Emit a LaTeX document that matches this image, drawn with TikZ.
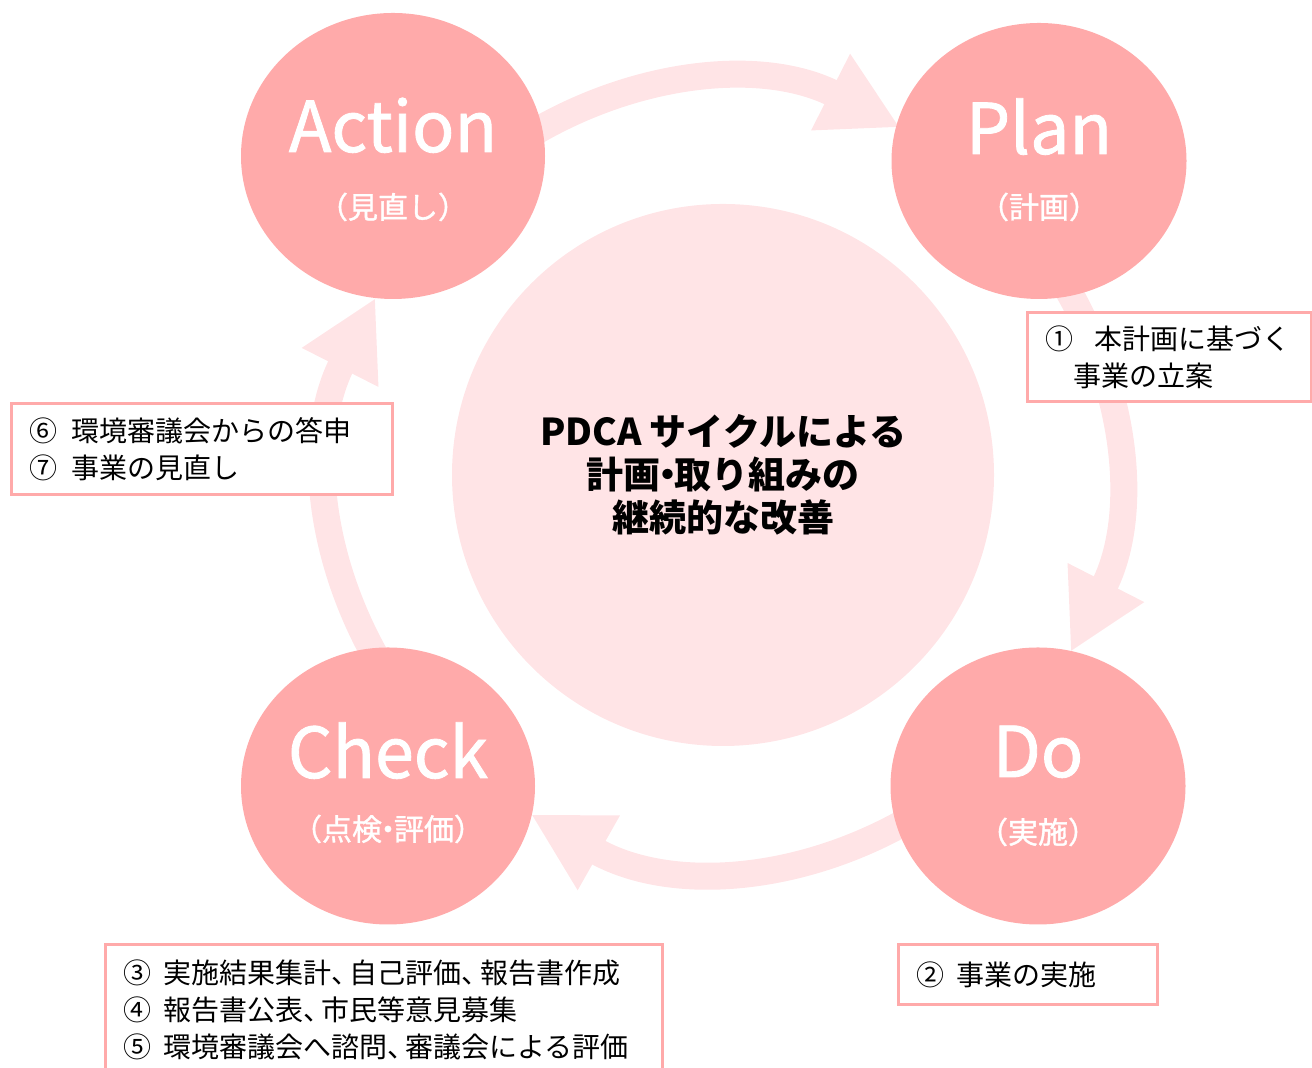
\documentclass[tikz,border=0pt]{standalone}
\usepackage{fontspec}
\setmainfont{Noto Sans CJK JP}
\newfontfamily\phasefont{Noto Sans CJK JP}[FakeBold=1.2]
\usetikzlibrary{arrows.meta,shapes.geometric,positioning}
\definecolor{pdcadark}{HTML}{FFAAAA}
\definecolor{pdcalight}{HTML}{FFE4E6}
\newcommand\tcomma{、\kern-0.35em}

\begin{document}
\begin{tikzpicture}[x=0.5pt,y=0.5pt,
                    phase/.style={ellipse,fill=pdcadark,inner sep=0},
                    ring/.style={draw=pdcalight,line width=13.5pt,
                                 -{Triangle[length=39pt,width=40pt]}},
                    notebox/.style={draw=pdcadark,fill=white,line width=1.5pt,
                                    anchor=north west,align=left,inner xsep=9pt,
                                    font=\fontsize{14}{18.5}\selectfont}]
  \tikzstyle{phasetitle}=[text=white,anchor=base,inner sep=0,
                          font=\phasefont\fontsize{35}{40}\selectfont]
  \tikzstyle{phasesub}=[text=white,inner sep=0,
                        font=\phasefont\fontsize{15}{17}\selectfont]

  \useasboundingbox (0,0) rectangle (1312,1068);

  \node[circle,fill=pdcalight,minimum size=271pt,inner sep=0,align=center,
        font=\bfseries\fontsize{18.5}{21.5}\selectfont] (centre) at (723,593)
        {PDCA サイクルによる\\計画\kern-0.3em・\kern-0.3em 取り組みの\\継続的な改善};

  % cycle arrows
  \draw[ring] (centre) ++(140:390) arc[start angle=140,end angle=63,radius=390];
  \draw[ring] (centre) ++(50:390)  arc[start angle=50,end angle=-27,radius=390];
  \draw[ring] (centre) ++(-37:390) arc[start angle=-37,end angle=-119.5,radius=390];
  \draw[ring] (centre) ++(233:390) arc[start angle=233,end angle=153,radius=390];

  \node[phase,minimum width=152pt,minimum height=143pt]   (act)   at (393,912)  {};
  \node[phase,minimum width=147.5pt,minimum height=138pt] (plan)  at (1039,907) {};
  \node[phase,minimum width=147pt,minimum height=138.5pt] (check) at (388,282)  {};
  \node[phase,minimum width=147.5pt,minimum height=138.5pt] (do)  at (1038,282) {};

  \node[phasetitle] (acttitle)   at ([yshift=2pt]act.center)    {Action};
  \node[phasetitle] (plantitle)  at ([yshift=3.5pt]plan.center) {Plan};
  \node[phasetitle] (checktitle) at ([yshift=4pt]check.center)  {Check};
  \node[phasetitle] (dotitle)    at ([yshift=4.5pt]do.center)   {Do};

  \node[phasesub] (actsub)   at ([yshift=-25.5pt]act.center)  {（見直し）};
  \node[phasesub] (plansub)  at ([yshift=-23pt]plan.center)   {（計画）};
  \node[phasesub] (checksub) at ([yshift=-21.5pt]check.center)
       {（点検\kern-0.3em・\kern-0.3em 評価）};
  \node[phasesub] (dosub)    at ([yshift=-23pt]do.center)     {（実施）};

  % notes
  \node[notebox,minimum width=142pt,text width=124pt,minimum height=44.5pt]
       (plannote) at (1025.5,756.5)
       {①\hspace{0.75em}本計画に基づく\\\hspace{1em}事業の立案};
  \node[notebox,minimum width=190.5pt,text width=172.5pt,minimum height=45.5pt]
       (actnote) at (9.5,665.5)
       {⑥\hspace{0.5em}環境審議会からの答申\\⑦\hspace{0.5em}事業の見直し};
  \node[notebox,minimum width=278.5pt,text width=260.5pt,minimum height=65pt]
       (checknote) at (103.5,124.5)
       {③\hspace{0.45em}実施結果集計\tcomma 自己評価\tcomma 報告書作成\\
        ④\hspace{0.45em}報告書公表\tcomma 市民等意見募集\\
        ⑤\hspace{0.45em}環境審議会へ諮問\tcomma 審議会による評価};
  \node[notebox,minimum width=129.5pt,text width=111.5pt,minimum height=30pt]
       (donote) at (896.5,124.5)
       {②\hspace{0.45em}事業の実施};
\end{tikzpicture}
\end{document}
